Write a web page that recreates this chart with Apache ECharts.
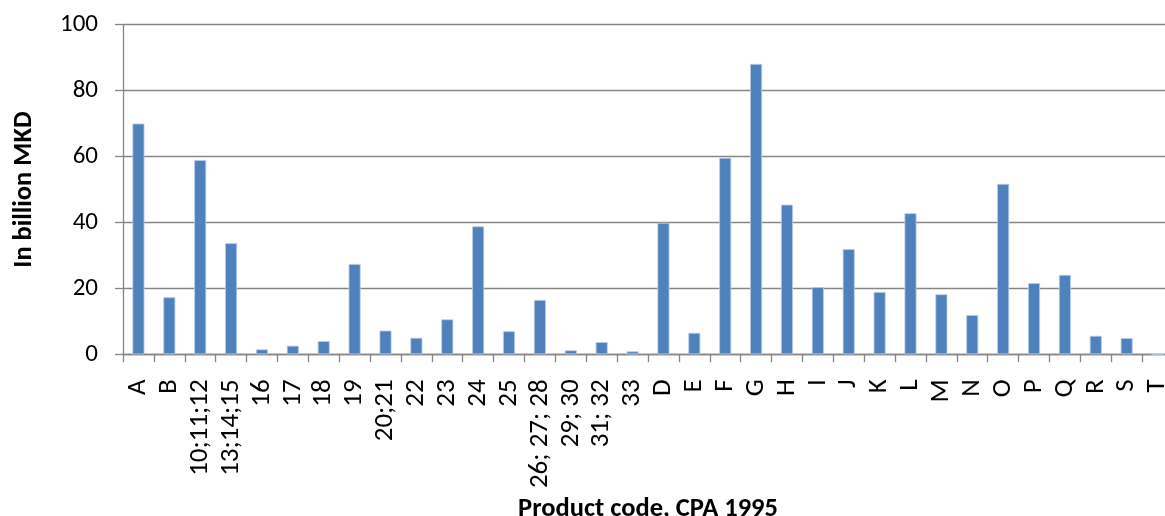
<!DOCTYPE html>
<html>
<head>
<meta charset="utf-8">
<script src="https://cdn.jsdelivr.net/npm/echarts@6/dist/echarts.min.js"></script>
<style>html,body{margin:0;padding:0;background:#fff;}#c{width:1165px;height:516px;}</style>
</head>
<body>
<div id="c"></div>
<script>
const categories = ["A","B","10;11;12","13;14;15","16","17","18","19","20;21","22","23","24","25","26; 27; 28","29; 30","31; 32","33","D","E","F","G","H","I","J","K","L","M","N","O","P","Q","R","S","T"];
const values = [70,17.3,58.9,33.7,1.5,2.6,4.0,27.4,7.2,5.0,10.6,38.8,7.0,16.5,1.2,3.7,0.9,39.9,6.5,59.6,88.1,45.4,20.4,31.9,18.9,42.8,18.2,11.9,51.7,21.6,24.1,5.6,4.9,0];
const yTicks = [0,20,40,60,80,100];
const yTitle = "In billion MKD";
const xTitle = "Product code, CPA 1995";

const chart = echarts.init(document.getElementById('c'), null, {renderer:'canvas'});
const font = "Carlito, Calibri, 'Open Sans', 'Liberation Sans', sans-serif";
chart.setOption({
  animation:false,
  backgroundColor:'#fff',
  grid:{left:123, top:24.7, bottom:161.7, width:1050, containLabel:false, outerBoundsMode:'none'},
  xAxis:{
    type:'category', data:categories,
    axisLine:{lineStyle:{color:'#868686', width:1.3}},
    axisTick:{show:true, length:8, lineStyle:{color:'#868686', width:1.3}},
    axisLabel:{rotate:90, margin:25, color:'#000', fontSize:27, fontFamily:font, interval:0},
    name:xTitle, nameLocation:'middle', nameGap:137,
    nameTextStyle:{fontSize:26.5, fontWeight:'bold', color:'#000', fontFamily:font}
  },
  yAxis:{
    type:'value', min:yTicks[0], max:yTicks[yTicks.length-1], interval:20,
    axisLine:{show:true, lineStyle:{color:'#868686', width:1.3}},
    axisTick:{show:true, length:8, lineStyle:{color:'#868686', width:1.3}},
    splitLine:{lineStyle:{color:'#868686', width:1.3}},
    axisLabel:{margin:25, color:'#000', fontSize:25, fontFamily:font},
    name:yTitle, nameLocation:'middle', nameGap:85,
    nameTextStyle:{fontSize:26.5, fontWeight:'bold', color:'#000', fontFamily:font}
  },
  series:[{
    type:'bar', data:values, barWidth:12,
    itemStyle:{color:'#4F81BD', borderColor:'#B9CDE5', borderWidth:0.8}
  }]
});
</script>
</body>
</html>
